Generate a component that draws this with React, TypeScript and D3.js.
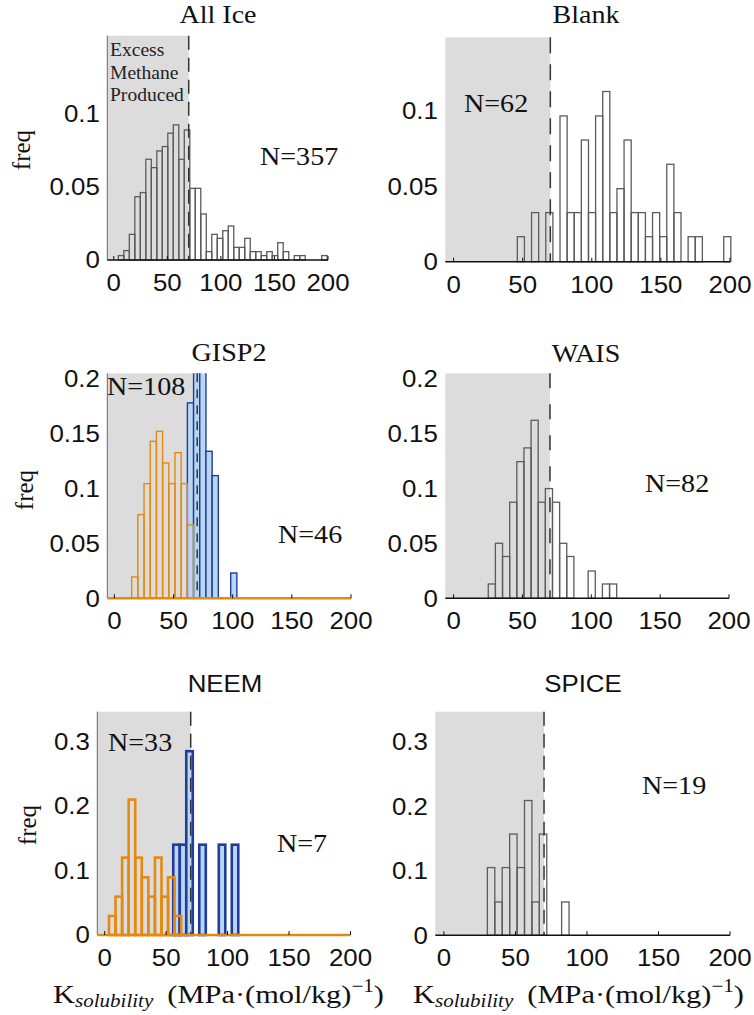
import React from "react";
import * as d3 from "d3";

// ---------------- data ----------------
const xTicks = [0, 50, 100, 150, 200];
const threshold = 70;

const allIceFreq = [0.003, 0.0064, 0.0175, 0.0432, 0.046, 0.0687, 0.063, 0.0744, 0.0774, 0.0865, 0.0922, 0.0687, 0.0887, 0.0489, 0.0489, 0.0314, 0.0057, 0.0175, 0.0148, 0.02, 0.0232, 0.0086, 0.0086, 0.0148, 0.0057, 0.0057, 0.003, 0.0057, 0.003, 0.0118, 0.0057, 0, 0.003, 0.003, 0, 0, 0, 0.003];
const allIceBins = { start: 4.3, width: 5.13 };

const blankFreq = [0.0166, 0, 0.0326, 0, 0.0326, 0, 0.0968, 0.0326, 0.0326, 0.0808, 0.0326, 0.0968, 0.113, 0.0326, 0.0485, 0.0808, 0.0326, 0.0326, 0.0166, 0.0326, 0.0166, 0.0647, 0.0326, 0, 0.0166, 0.0166, 0, 0, 0, 0.0166];
const blankBins = { start: 46.1, width: 5.15 };

const gisp2OrangeFreq = [0.0194, 0.0761, 0.1042, 0.1427, 0.1518, 0.123, 0.1042, 0.1324, 0.1042, 0.0667];
const gisp2OrangeBins = { start: 14.6, width: 5.23 };
const gisp2BlueFreq = [0.1776, 0.28, 0.28, 0.1336, 0.1115, 0, 0, 0.023];
const gisp2BlueBins = { start: 61.7, width: 5.23 };

const waisFreq = [0.013, 0.05, 0.038, 0.0873, 0.1242, 0.1367, 0.1618, 0.0873, 0.0997, 0.0873, 0.05, 0.038, 0, 0, 0.0248, 0, 0.013, 0.013];
const waisBins = { start: 25.2, width: 5.18 };

const neemOrangeFreq = [0.0295, 0.0594, 0.12, 0.21, 0.12, 0.0894, 0.0594, 0.12, 0.0594, 0.0894, 0.0295];
const neemOrangeBins = { start: 3.5, width: 5.34 };
const neemBlueFreq = [0.14, 0.14, 0.285, 0, 0.14, 0, 0, 0.14, 0, 0.14];
const neemBlueBins = { start: 55.8, width: 5.29 };

const spiceFreq = [0.105, 0.0517, 0.105, 0.157, 0.105, 0.209, 0.0517, 0.157, 0, 0, 0.0517];
const spiceBins = { start: 30.4, width: 5.19 };

const yTicksSmall = [0, 0.05, 0.1];
const yTicksMid = [0, 0.05, 0.1, 0.15, 0.2];
const yTicksLarge = [0, 0.1, 0.2, 0.3];

// ---------------- styles ----------------
const SERIF = "'Liberation Serif', 'Times New Roman', serif";
const SANS = "'Liberation Sans', Arial, Helvetica, sans-serif";
const GRAY_FILL = "#dcdcdc";
const ORANGE = "#e48a10";
const BLUE_STROKE = "#1f3c9e";
const BLUE_FILL = "#b9d6f5";

type Series = { freq: number[]; bins: { start: number; width: number }; kind: "gray" | "orange" | "blue" };
type Label = { text: string; x: number; y: number };
type PanelCfg = {
  id: string;
  title: string;
  titleSans: boolean;
  titleX: number;
  titleY: number;
  left: number;
  right: number;
  top: number;
  bottom: number;
  xmin: number;
  ymax: number;
  yTicks: number[];
  series: Series[];
  labels: Label[];
  leftAxis: boolean;
  coloredBase: boolean;
  thick: boolean;
  dash: string;
};

const panels: PanelCfg[] = [
  {
    id: "p1", title: "All Ice", titleSans: false, titleX: 218, titleY: 23,
    left: 107.3, right: 328, top: 35.7, bottom: 260, xmin: -6, ymax: 0.153,
    yTicks: yTicksSmall,
    series: [{ freq: allIceFreq, bins: allIceBins, kind: "gray" }],
    labels: [{ text: "N=357", x: 260, y: 165 }],
    leftAxis: true, coloredBase: false, thick: false, dash: "14,8",
  },
  {
    id: "p2", title: "Blank", titleSans: false, titleX: 586, titleY: 23,
    left: 445.3, right: 730, top: 37.3, bottom: 261.7, xmin: -6, ymax: 0.149,
    yTicks: yTicksSmall,
    series: [{ freq: blankFreq, bins: blankBins, kind: "gray" }],
    labels: [{ text: "N=62", x: 464, y: 112 }],
    leftAxis: false, coloredBase: false, thick: false, dash: "16,11",
  },
  {
    id: "p3", title: "GISP2", titleSans: false, titleX: 229, titleY: 361,
    left: 107.3, right: 351, top: 373.3, bottom: 598.3, xmin: -6, ymax: 0.2045,
    yTicks: yTicksMid,
    series: [
      { freq: gisp2BlueFreq, bins: gisp2BlueBins, kind: "blue" },
      { freq: gisp2OrangeFreq, bins: gisp2OrangeBins, kind: "orange" },
    ],
    labels: [{ text: "N=108", x: 107, y: 395 }, { text: "N=46", x: 278, y: 543 }],
    leftAxis: true, coloredBase: true, thick: false, dash: "9,7",
  },
  {
    id: "p4", title: "WAIS", titleSans: false, titleX: 586, titleY: 362,
    left: 445.3, right: 729, top: 373.3, bottom: 598.3, xmin: -6, ymax: 0.2045,
    yTicks: yTicksMid,
    series: [{ freq: waisFreq, bins: waisBins, kind: "gray" }],
    labels: [{ text: "N=82", x: 645, y: 492 }],
    leftAxis: false, coloredBase: false, thick: false, dash: "15,16",
  },
  {
    id: "p5", title: "NEEM", titleSans: true, titleX: 225, titleY: 692,
    left: 97.3, right: 350.5, top: 711.7, bottom: 935, xmin: -6, ymax: 0.3462,
    yTicks: yTicksLarge,
    series: [
      { freq: neemBlueFreq, bins: neemBlueBins, kind: "blue" },
      { freq: neemOrangeFreq, bins: neemOrangeBins, kind: "orange" },
    ],
    labels: [{ text: "N=33", x: 108, y: 751 }, { text: "N=7", x: 277, y: 852 }],
    leftAxis: true, coloredBase: true, thick: true, dash: "14,8",
  },
  {
    id: "p6", title: "SPICE", titleSans: true, titleX: 583, titleY: 692,
    left: 435.3, right: 730, top: 711.7, bottom: 935.3, xmin: -6, ymax: 0.3467,
    yTicks: yTicksLarge,
    series: [{ freq: spiceFreq, bins: spiceBins, kind: "gray" }],
    labels: [{ text: "N=19", x: 642, y: 794 }],
    leftAxis: false, coloredBase: false, thick: false, dash: "14,8",
  },
];

function T(props: { x: number; y: number; size: number; family: string; sx?: number; anchor?: string; children: any; fill?: string; rotate?: number }) {
  const { x, y, size, family, sx = 1, anchor = "start", children, fill = "#111", rotate = 0 } = props;
  return (
    <text
      transform={`translate(${x},${y}) rotate(${rotate}) scale(${sx},1)`}
      fontFamily={family}
      fontSize={size}
      textAnchor={anchor as any}
      fill={fill}
    >
      {children}
    </text>
  );
}

function fmt(v: number) {
  return d3.format("~g")(v);
}

function Panel({ cfg }: { cfg: PanelCfg }) {
  const x = d3.scaleLinear().domain([cfg.xmin, 200]).range([cfg.left, cfg.right]);
  const y = d3.scaleLinear().domain([0, cfg.ymax]).range([cfg.bottom, cfg.top]);
  const clipId = `clip-${cfg.id}`;
  const sw = cfg.thick ? 2.6 : 1.4;

  return (
    <g>
      <defs>
        <clipPath id={clipId}>
          <rect x={cfg.left} y={cfg.top} width={cfg.right - cfg.left + 6} height={cfg.bottom - cfg.top + 4} />
        </clipPath>
      </defs>
      {/* excess methane region */}
      <rect x={x(cfg.xmin)} y={y(cfg.ymax)} width={x(threshold) - x(cfg.xmin)} height={y(0) - y(cfg.ymax)} fill={GRAY_FILL} />
      {cfg.leftAxis && (
        <line x1={cfg.left} x2={cfg.left} y1={y(cfg.ymax)} y2={y(0)} stroke="#6a6a6a" strokeWidth={1} />
      )}
      {/* bars */}
      <g clipPath={`url(#${clipId})`}>
        {cfg.series.map((s, si) =>
          s.freq.map((f, i) => {
            if (f <= 0) return null;
            const x0 = s.bins.start + i * s.bins.width;
            const x1 = x0 + s.bins.width;
            const stroke = s.kind === "gray" ? "#5c5c5c" : s.kind === "orange" ? ORANGE : BLUE_STROKE;
            const fill = s.kind === "blue" ? BLUE_FILL : "none";
            const w = s.kind === "gray" ? 1.3 : sw;
            return (
              <rect
                key={`${si}-${i}`}
                x={x(x0)}
                y={y(f)}
                width={x(x1) - x(x0)}
                height={y(0) - y(f)}
                fill={fill}
                stroke={stroke}
                strokeWidth={w}
              />
            );
          })
        )}
      </g>
      {/* threshold */}
      <line x1={x(threshold)} x2={x(threshold)} y1={y(cfg.ymax)} y2={y(0)} stroke="#333" strokeWidth={1.5} strokeDasharray={cfg.dash} />
      {/* baseline */}
      <line
        x1={cfg.left}
        x2={cfg.right}
        y1={y(0)}
        y2={y(0)}
        stroke={cfg.coloredBase ? ORANGE : "#111"}
        strokeWidth={cfg.coloredBase ? 2.4 : 1.6}
      />
      {xTicks.map((t) => (
        <g key={t}>
          <line x1={x(t)} x2={x(t)} y1={y(0)} y2={y(0) - 4} stroke="#111" strokeWidth={1} />
          <T x={x(t)} y={y(0) + 31} size={23.5} family={SANS} sx={1.1} anchor="middle">{fmt(t)}</T>
        </g>
      ))}
      {cfg.yTicks.map((t) => (
        <T key={t} x={cfg.left - 7.5} y={y(t) + 8.4} size={23.5} family={SANS} sx={1.1} anchor="end">{fmt(t)}</T>
      ))}
      {/* title */}
      {cfg.titleSans ? (
        <T x={cfg.titleX} y={cfg.titleY} size={23.5} family={SANS} sx={1.1} anchor="middle">{cfg.title}</T>
      ) : (
        <T x={cfg.titleX} y={cfg.titleY} size={26} family={SERIF} sx={1.08} anchor="middle">{cfg.title}</T>
      )}
      {cfg.labels.map((l) => (
        <T key={l.text} x={l.x} y={l.y} size={26} family={SERIF} sx={1.08}>{l.text}</T>
      ))}
    </g>
  );
}

function AxisLabel({ x, y }: { x: number; y: number }) {
  return (
    <text transform={`translate(${x},${y}) scale(1.17,1)`} fontFamily={SERIF} fontSize={26} fill="#111">
      <tspan>K</tspan>
      <tspan fontStyle="italic" fontSize={18} dy={4}>solubility</tspan>
      <tspan dy={-4} dx={12}>(MPa·(mol/kg)</tspan>
      <tspan fontSize={18} dy={-11}>−1</tspan>
      <tspan dy={11}>)</tspan>
    </text>
  );
}

export default function App() {
  return (
    <svg
      width={754}
      height={1015}
      viewBox="0 0 754 1015"
      style={{ position: "absolute", left: 0, top: 0, background: "#fff" }}
    >
      <rect x={0} y={0} width={754} height={1015} fill="#fff" />
      {panels.map((p) => (
        <Panel key={p.id} cfg={p} />
      ))}
      {/* Excess methane annotation */}
      <T x={110} y={56} size={19} family={SERIF} sx={1.03} fill="#222">Excess</T>
      <T x={110} y={78.5} size={19} family={SERIF} sx={1.03} fill="#222">Methane</T>
      <T x={110} y={101} size={19} family={SERIF} sx={1.03} fill="#222">Produced</T>
      {/* y labels */}
      <T x={30} y={150} size={25} family={SERIF} anchor="middle" rotate={-90}>freq</T>
      <T x={33} y={490} size={25} family={SERIF} anchor="middle" rotate={-90}>freq</T>
      <T x={36} y={825} size={25} family={SERIF} anchor="middle" rotate={-90}>freq</T>
      {/* x labels */}
      <AxisLabel x={53} y={1003} />
      <AxisLabel x={413} y={1003} />
    </svg>
  );
}
